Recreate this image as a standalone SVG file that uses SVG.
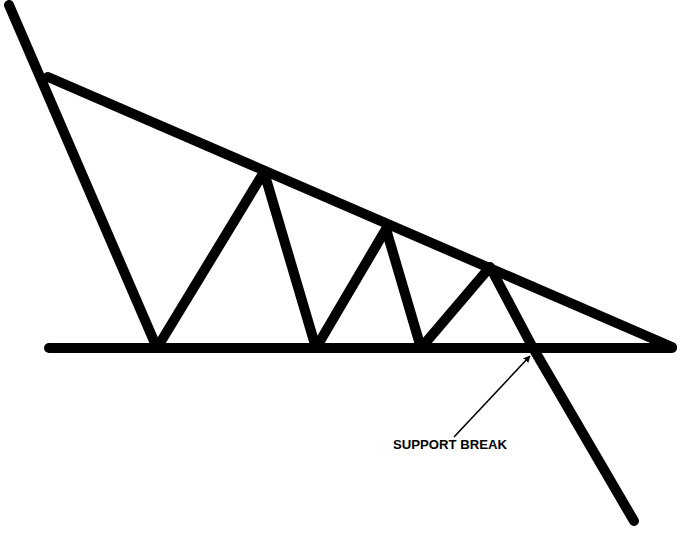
<svg xmlns="http://www.w3.org/2000/svg" width="681" height="535" viewBox="0 0 681 535">
<style>
.thick{fill:none;stroke:#000;stroke-width:10;stroke-linecap:round;stroke-linejoin:round}
.thin{fill:none;stroke:#000;stroke-width:1.6}
.lbl{font-family:"Liberation Sans",Arial,sans-serif;font-weight:bold;font-size:13.5px;fill:#000}
</style>
<defs>
<marker id="ah" viewBox="0 0 10 10" refX="9" refY="5" markerWidth="7" markerHeight="7" orient="auto" markerUnits="userSpaceOnUse">
<path d="M0,0 L10,5 L0,10 z" fill="#000"/>
</marker>
</defs>
<g id="connectors">
<line id="support" class="thick" x1="49" y1="348" x2="672" y2="348"/>
<line id="resistance" class="thick" x1="48" y1="77" x2="672" y2="347"/>
<polyline id="price" class="thick" points="9,5 157,348 264,172 316,348 386,229 421,348 490,267 533,348 634,521"/>
<line id="pointer" class="thin" x1="454" y1="437" x2="530" y2="356" marker-end="url(#ah)"/>
</g>
<g id="label">
<text class="lbl" x="393" y="449" textLength="114" lengthAdjust="spacingAndGlyphs">SUPPORT BREAK</text>
</g>
</svg>
